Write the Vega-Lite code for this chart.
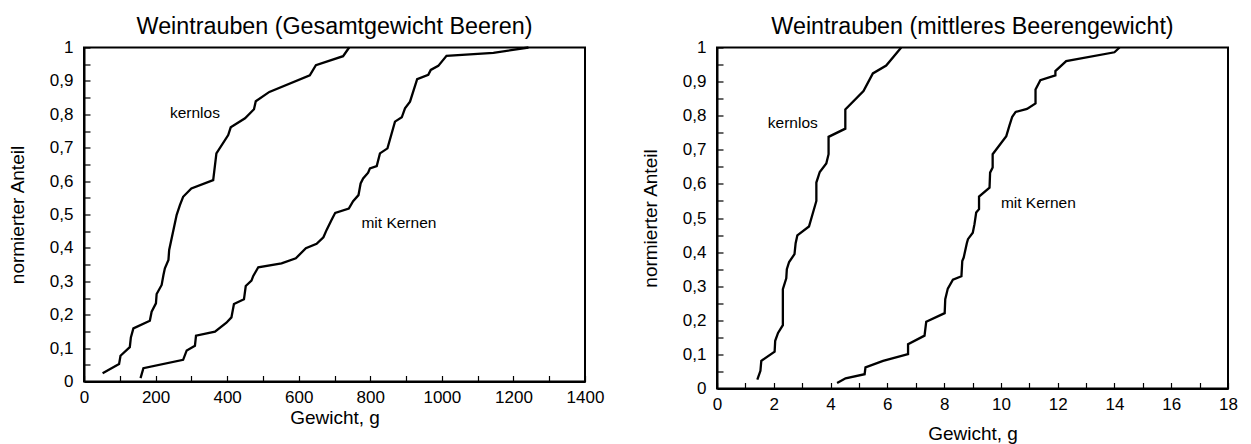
{
  "$schema": "https://vega.github.io/schema/vega-lite/v6.json",
  "background": "white",
  "autosize": "none",
  "padding": {"left": 84, "top": 47.5, "right": 1167, "bottom": 396.5},
  "config": {
    "font": "Liberation Sans",
    "view": {"stroke": "black", "strokeWidth": 2},
    "axis": {"grid": false, "domainColor": "black", "domainWidth": 2, "tickColor": "black", "tickWidth": 1.2, "labelColor": "black", "titleColor": "black", "labelFontSize": 17, "titleFontSize": 19, "titleFontWeight": "normal", "labelFont": "Liberation Sans", "titleFont": "Liberation Sans", "labelOverlap": false, "labelFlush": false, "tickSize": -6},
    "title": {"fontSize": 23.3, "fontWeight": "normal", "color": "black", "font": "Liberation Sans"}
  },
  "datasets": {
    "curves": [
      {"panel": "A", "series": "kernlos", "g": 52, "p": 0.025},
      {"panel": "A", "series": "kernlos", "g": 98, "p": 0.052},
      {"panel": "A", "series": "kernlos", "g": 102, "p": 0.077},
      {"panel": "A", "series": "kernlos", "g": 128, "p": 0.103},
      {"panel": "A", "series": "kernlos", "g": 131, "p": 0.132},
      {"panel": "A", "series": "kernlos", "g": 138, "p": 0.159},
      {"panel": "A", "series": "kernlos", "g": 184, "p": 0.182},
      {"panel": "A", "series": "kernlos", "g": 189, "p": 0.209},
      {"panel": "A", "series": "kernlos", "g": 201, "p": 0.234},
      {"panel": "A", "series": "kernlos", "g": 203, "p": 0.262},
      {"panel": "A", "series": "kernlos", "g": 217, "p": 0.289},
      {"panel": "A", "series": "kernlos", "g": 222, "p": 0.319},
      {"panel": "A", "series": "kernlos", "g": 226, "p": 0.339},
      {"panel": "A", "series": "kernlos", "g": 236, "p": 0.364},
      {"panel": "A", "series": "kernlos", "g": 238, "p": 0.394},
      {"panel": "A", "series": "kernlos", "g": 259, "p": 0.499},
      {"panel": "A", "series": "kernlos", "g": 268, "p": 0.528},
      {"panel": "A", "series": "kernlos", "g": 277, "p": 0.553},
      {"panel": "A", "series": "kernlos", "g": 300, "p": 0.578},
      {"panel": "A", "series": "kernlos", "g": 361, "p": 0.603},
      {"panel": "A", "series": "kernlos", "g": 370, "p": 0.683},
      {"panel": "A", "series": "kernlos", "g": 403, "p": 0.738},
      {"panel": "A", "series": "kernlos", "g": 410, "p": 0.761},
      {"panel": "A", "series": "kernlos", "g": 450, "p": 0.788},
      {"panel": "A", "series": "kernlos", "g": 475, "p": 0.815},
      {"panel": "A", "series": "kernlos", "g": 480, "p": 0.839},
      {"panel": "A", "series": "kernlos", "g": 518, "p": 0.867},
      {"panel": "A", "series": "kernlos", "g": 631, "p": 0.917},
      {"panel": "A", "series": "kernlos", "g": 648, "p": 0.947},
      {"panel": "A", "series": "kernlos", "g": 724, "p": 0.974},
      {"panel": "A", "series": "kernlos", "g": 741, "p": 1.0},
      {"panel": "A", "series": "mit Kernen", "g": 158, "p": 0.010},
      {"panel": "A", "series": "mit Kernen", "g": 166, "p": 0.040},
      {"panel": "A", "series": "mit Kernen", "g": 277, "p": 0.065},
      {"panel": "A", "series": "mit Kernen", "g": 287, "p": 0.093},
      {"panel": "A", "series": "mit Kernen", "g": 310, "p": 0.107},
      {"panel": "A", "series": "mit Kernen", "g": 313, "p": 0.137},
      {"panel": "A", "series": "mit Kernen", "g": 366, "p": 0.149},
      {"panel": "A", "series": "mit Kernen", "g": 398, "p": 0.176},
      {"panel": "A", "series": "mit Kernen", "g": 412, "p": 0.192},
      {"panel": "A", "series": "mit Kernen", "g": 419, "p": 0.232},
      {"panel": "A", "series": "mit Kernen", "g": 447, "p": 0.246},
      {"panel": "A", "series": "mit Kernen", "g": 452, "p": 0.286},
      {"panel": "A", "series": "mit Kernen", "g": 468, "p": 0.302},
      {"panel": "A", "series": "mit Kernen", "g": 473, "p": 0.316},
      {"panel": "A", "series": "mit Kernen", "g": 487, "p": 0.342},
      {"panel": "A", "series": "mit Kernen", "g": 552, "p": 0.354},
      {"panel": "A", "series": "mit Kernen", "g": 592, "p": 0.369},
      {"panel": "A", "series": "mit Kernen", "g": 620, "p": 0.399},
      {"panel": "A", "series": "mit Kernen", "g": 650, "p": 0.412},
      {"panel": "A", "series": "mit Kernen", "g": 669, "p": 0.432},
      {"panel": "A", "series": "mit Kernen", "g": 678, "p": 0.454},
      {"panel": "A", "series": "mit Kernen", "g": 692, "p": 0.484},
      {"panel": "A", "series": "mit Kernen", "g": 702, "p": 0.505},
      {"panel": "A", "series": "mit Kernen", "g": 740, "p": 0.518},
      {"panel": "A", "series": "mit Kernen", "g": 752, "p": 0.540},
      {"panel": "A", "series": "mit Kernen", "g": 767, "p": 0.558},
      {"panel": "A", "series": "mit Kernen", "g": 773, "p": 0.593},
      {"panel": "A", "series": "mit Kernen", "g": 780, "p": 0.608},
      {"panel": "A", "series": "mit Kernen", "g": 794, "p": 0.625},
      {"panel": "A", "series": "mit Kernen", "g": 799, "p": 0.638},
      {"panel": "A", "series": "mit Kernen", "g": 818, "p": 0.645},
      {"panel": "A", "series": "mit Kernen", "g": 827, "p": 0.683},
      {"panel": "A", "series": "mit Kernen", "g": 848, "p": 0.698},
      {"panel": "A", "series": "mit Kernen", "g": 869, "p": 0.778},
      {"panel": "A", "series": "mit Kernen", "g": 888, "p": 0.791},
      {"panel": "A", "series": "mit Kernen", "g": 897, "p": 0.818},
      {"panel": "A", "series": "mit Kernen", "g": 911, "p": 0.838},
      {"panel": "A", "series": "mit Kernen", "g": 931, "p": 0.905},
      {"panel": "A", "series": "mit Kernen", "g": 962, "p": 0.918},
      {"panel": "A", "series": "mit Kernen", "g": 969, "p": 0.933},
      {"panel": "A", "series": "mit Kernen", "g": 990, "p": 0.945},
      {"panel": "A", "series": "mit Kernen", "g": 1013, "p": 0.975},
      {"panel": "A", "series": "mit Kernen", "g": 1144, "p": 0.984},
      {"panel": "A", "series": "mit Kernen", "g": 1242, "p": 1.0},
      {"panel": "B", "series": "kernlos", "g": 1.42, "p": 0.026},
      {"panel": "B", "series": "kernlos", "g": 1.53, "p": 0.052},
      {"panel": "B", "series": "kernlos", "g": 1.56, "p": 0.081},
      {"panel": "B", "series": "kernlos", "g": 2.03, "p": 0.108},
      {"panel": "B", "series": "kernlos", "g": 2.05, "p": 0.140},
      {"panel": "B", "series": "kernlos", "g": 2.15, "p": 0.163},
      {"panel": "B", "series": "kernlos", "g": 2.32, "p": 0.186},
      {"panel": "B", "series": "kernlos", "g": 2.32, "p": 0.291},
      {"panel": "B", "series": "kernlos", "g": 2.44, "p": 0.323},
      {"panel": "B", "series": "kernlos", "g": 2.46, "p": 0.350},
      {"panel": "B", "series": "kernlos", "g": 2.54, "p": 0.371},
      {"panel": "B", "series": "kernlos", "g": 2.73, "p": 0.394},
      {"panel": "B", "series": "kernlos", "g": 2.77, "p": 0.426},
      {"panel": "B", "series": "kernlos", "g": 2.83, "p": 0.449},
      {"panel": "B", "series": "kernlos", "g": 3.24, "p": 0.475},
      {"panel": "B", "series": "kernlos", "g": 3.50, "p": 0.550},
      {"panel": "B", "series": "kernlos", "g": 3.50, "p": 0.604},
      {"panel": "B", "series": "kernlos", "g": 3.62, "p": 0.635},
      {"panel": "B", "series": "kernlos", "g": 3.85, "p": 0.660},
      {"panel": "B", "series": "kernlos", "g": 3.93, "p": 0.687},
      {"panel": "B", "series": "kernlos", "g": 3.93, "p": 0.738},
      {"panel": "B", "series": "kernlos", "g": 4.52, "p": 0.762},
      {"panel": "B", "series": "kernlos", "g": 4.52, "p": 0.818},
      {"panel": "B", "series": "kernlos", "g": 5.16, "p": 0.872},
      {"panel": "B", "series": "kernlos", "g": 5.49, "p": 0.924},
      {"panel": "B", "series": "kernlos", "g": 5.96, "p": 0.947},
      {"panel": "B", "series": "kernlos", "g": 6.49, "p": 1.0},
      {"panel": "B", "series": "mit Kernen", "g": 4.23, "p": 0.016},
      {"panel": "B", "series": "mit Kernen", "g": 4.53, "p": 0.030},
      {"panel": "B", "series": "mit Kernen", "g": 5.20, "p": 0.042},
      {"panel": "B", "series": "mit Kernen", "g": 5.23, "p": 0.062},
      {"panel": "B", "series": "mit Kernen", "g": 5.85, "p": 0.081},
      {"panel": "B", "series": "mit Kernen", "g": 6.73, "p": 0.101},
      {"panel": "B", "series": "mit Kernen", "g": 6.73, "p": 0.130},
      {"panel": "B", "series": "mit Kernen", "g": 7.31, "p": 0.155},
      {"panel": "B", "series": "mit Kernen", "g": 7.37, "p": 0.196},
      {"panel": "B", "series": "mit Kernen", "g": 8.02, "p": 0.221},
      {"panel": "B", "series": "mit Kernen", "g": 8.04, "p": 0.262},
      {"panel": "B", "series": "mit Kernen", "g": 8.13, "p": 0.293},
      {"panel": "B", "series": "mit Kernen", "g": 8.31, "p": 0.319},
      {"panel": "B", "series": "mit Kernen", "g": 8.61, "p": 0.329},
      {"panel": "B", "series": "mit Kernen", "g": 8.64, "p": 0.374},
      {"panel": "B", "series": "mit Kernen", "g": 8.69, "p": 0.384},
      {"panel": "B", "series": "mit Kernen", "g": 8.80, "p": 0.426},
      {"panel": "B", "series": "mit Kernen", "g": 8.84, "p": 0.438},
      {"panel": "B", "series": "mit Kernen", "g": 9.01, "p": 0.457},
      {"panel": "B", "series": "mit Kernen", "g": 9.07, "p": 0.482},
      {"panel": "B", "series": "mit Kernen", "g": 9.13, "p": 0.516},
      {"panel": "B", "series": "mit Kernen", "g": 9.23, "p": 0.526},
      {"panel": "B", "series": "mit Kernen", "g": 9.23, "p": 0.563},
      {"panel": "B", "series": "mit Kernen", "g": 9.60, "p": 0.589},
      {"panel": "B", "series": "mit Kernen", "g": 9.62, "p": 0.633},
      {"panel": "B", "series": "mit Kernen", "g": 9.71, "p": 0.648},
      {"panel": "B", "series": "mit Kernen", "g": 9.71, "p": 0.687},
      {"panel": "B", "series": "mit Kernen", "g": 10.19, "p": 0.740},
      {"panel": "B", "series": "mit Kernen", "g": 10.30, "p": 0.771},
      {"panel": "B", "series": "mit Kernen", "g": 10.40, "p": 0.797},
      {"panel": "B", "series": "mit Kernen", "g": 10.52, "p": 0.811},
      {"panel": "B", "series": "mit Kernen", "g": 10.92, "p": 0.820},
      {"panel": "B", "series": "mit Kernen", "g": 11.22, "p": 0.836},
      {"panel": "B", "series": "mit Kernen", "g": 11.22, "p": 0.877},
      {"panel": "B", "series": "mit Kernen", "g": 11.39, "p": 0.904},
      {"panel": "B", "series": "mit Kernen", "g": 11.92, "p": 0.918},
      {"panel": "B", "series": "mit Kernen", "g": 11.92, "p": 0.931},
      {"panel": "B", "series": "mit Kernen", "g": 12.30, "p": 0.960},
      {"panel": "B", "series": "mit Kernen", "g": 14.00, "p": 0.986},
      {"panel": "B", "series": "mit Kernen", "g": 14.18, "p": 1.0}
    ],
    "labels": [
      {"panel": "A", "label": "kernlos", "g": 310, "p": 0.804},
      {"panel": "A", "label": "mit Kernen", "g": 880, "p": 0.475},
      {"panel": "B", "label": "kernlos", "g": 2.67, "p": 0.78},
      {"panel": "B", "label": "mit Kernen", "g": 11.32, "p": 0.545}
    ]
  },
  "bounds": "flush",
  "spacing": 132,
  "hconcat": [
    {
      "width": 501,
      "height": 334,
      "title": {"text": "Weintrauben (Gesamtgewicht Beeren)", "baseline": "bottom", "offset": -24},
      "encoding": {
        "x": {"field": "g", "type": "quantitative", "scale": {"domain": [0, 1400], "nice": false},
          "axis": {"orient": "bottom", "title": "Gewicht, g", "values": [0, 100, 200, 300, 400, 500, 600, 700, 800, 900, 1000, 1100, 1200, 1300, 1400], "labelExpr": "datum.value % 200 == 0 ? format(datum.value, 'd') : ''", "labelPadding": 14, "titlePadding": 3}},
        "y": {"field": "p", "type": "quantitative", "scale": {"domain": [0, 1], "nice": false},
          "axis": {"orient": "left", "title": "normierter Anteil", "values": [0, 0.05, 0.1, 0.15, 0.2, 0.25, 0.3, 0.35, 0.4, 0.45, 0.5, 0.55, 0.6, 0.65, 0.7, 0.75, 0.8, 0.85, 0.9, 0.95, 1], "labelExpr": "round(datum.value * 20) % 2 == 0 ? replace(format(datum.value, '.1~f'), '.', ',') : ''", "labelPadding": 17, "titlePadding": 22}}
      },
      "layer": [
        {
          "data": {"name": "curves"},
          "transform": [{"filter": "datum.panel == 'A'"}],
          "mark": {"type": "line", "color": "black", "strokeWidth": 2.3},
          "encoding": {
            "detail": {"field": "series"},
            "order": {"field": "p"}
          }
        },
        {
          "data": {"name": "labels"},
          "transform": [{"filter": "datum.panel == 'A'"}],
          "mark": {"type": "text", "fontSize": 15.5, "color": "black", "align": "center", "baseline": "middle"},
          "encoding": {
            "text": {"field": "label"}
          }
        }
      ]
    },
    {
      "width": 511,
      "height": 341,
      "title": {"text": "Weintrauben (mittleres Beerengewicht)", "baseline": "bottom", "offset": -24},
      "encoding": {
        "x": {"field": "g", "type": "quantitative", "scale": {"domain": [0, 18], "nice": false},
          "axis": {"orient": "bottom", "title": "Gewicht, g", "values": [0, 1, 2, 3, 4, 5, 6, 7, 8, 9, 10, 11, 12, 13, 14, 15, 16, 17, 18], "labelExpr": "datum.value % 2 == 0 ? format(datum.value, 'd') : ''", "labelPadding": 14, "titlePadding": 12}},
        "y": {"field": "p", "type": "quantitative", "scale": {"domain": [0, 1], "nice": false},
          "axis": {"orient": "left", "title": "normierter Anteil", "values": [0, 0.05, 0.1, 0.15, 0.2, 0.25, 0.3, 0.35, 0.4, 0.45, 0.5, 0.55, 0.6, 0.65, 0.7, 0.75, 0.8, 0.85, 0.9, 0.95, 1], "labelExpr": "round(datum.value * 20) % 2 == 0 ? replace(format(datum.value, '.1~f'), '.', ',') : ''", "labelPadding": 17, "titlePadding": 22}}
      },
      "layer": [
        {
          "data": {"name": "curves"},
          "transform": [{"filter": "datum.panel == 'B'"}],
          "mark": {"type": "line", "color": "black", "strokeWidth": 2.3},
          "encoding": {
            "detail": {"field": "series"},
            "order": {"field": "p"}
          }
        },
        {
          "data": {"name": "labels"},
          "transform": [{"filter": "datum.panel == 'B'"}],
          "mark": {"type": "text", "fontSize": 15.5, "color": "black", "align": "center", "baseline": "middle"},
          "encoding": {
            "text": {"field": "label"}
          }
        }
      ]
    }
  ]
}
